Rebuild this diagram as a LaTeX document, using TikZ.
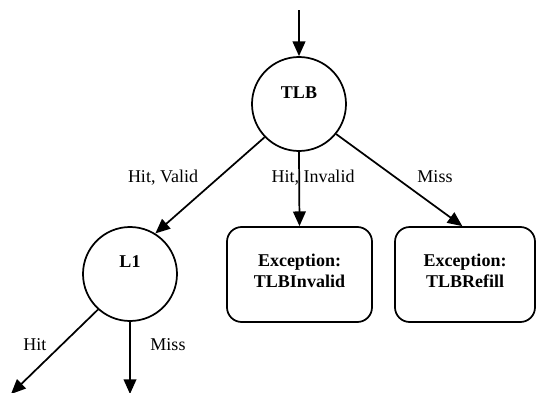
\documentclass[tikz,border=0pt]{standalone}
\usepackage{fontspec}
\setmainfont{Liberation Serif}
\usepackage{tikz}
\usetikzlibrary{arrows.meta,positioning}

\begin{document}
\begin{tikzpicture}
  [x=0.75pt,y=-0.75pt,line width=1.3pt,>={Triangle[length=11pt,width=9.5pt]},
   every node/.style={font=\fontsize{13.5}{15.75}\selectfont},
   unit/.style={circle,draw,minimum size=70.5pt,inner sep=0pt},
   exc/.style={draw,rounded corners=11pt,minimum height=71.25pt,text depth=6pt,align=center,font=\fontsize{13.5}{15.75}\selectfont\bfseries}]
  \useasboundingbox (0,0) rectangle (536,393);

  \coordinate (in) at (299,10);
  \node[unit] (tlb) at (299,104) {};
  \node[anchor=base] (tlbname) at (299,98) {\textbf{TLB}};
  \node[unit] (l1) at (130,274) {};
  \node[anchor=base] (l1name) at (130,267) {\textbf{L1}};
  \node[exc,minimum width=108.75pt] (inv) at (299.5,274.5) {Exception:\\TLBInvalid};
  \node[exc,minimum width=105pt] (refill) at (465,274.5) {Exception:\\TLBRefill};
  \coordinate (hitend) at (11,394);
  \coordinate (missend) at (130,394);

  \draw[->] (in) -- (tlb);
  \draw[->] (tlb.224) -- (l1.58);
  \draw[->] (tlb.south) -- (inv.north);
  \draw[->] (tlb.321) -- ([xshift=-2pt]refill.north);
  \draw[->] (l1.228) -- (hitend);
  \draw[->] (l1.south) -- (missend);

  % edge labels
  \node[anchor=base] (lhv) at (163,182) {Hit, Valid};
  \node[anchor=base] (lhi) at (313,182) {Hit, Invalid};
  \node[anchor=base] (lm) at (435,182) {Miss};
  \node[anchor=base] (lh1) at (35,350) {Hit};
  \node[anchor=base] (lm1) at (168,350) {Miss};
\end{tikzpicture}
\end{document}
